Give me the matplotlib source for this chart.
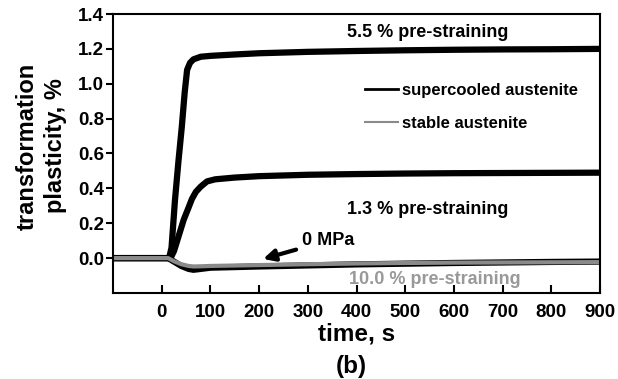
import matplotlib.pyplot as plt
from matplotlib.lines import Line2D

plt.rcParams['font.family'] = ['Liberation Sans', 'DejaVu Sans']
plt.rcParams['font.weight'] = 'bold'

# supercooled austenite, 5.5 % pre-straining
t_55 = [-100, 0, 15, 20, 27, 34, 41, 47, 52, 58, 65, 80, 100, 150, 200, 300, 400, 500, 600, 700, 800, 900]
v_55 = [0.0, 0.0, 0.0, 0.06, 0.33, 0.55, 0.75, 0.95, 1.08, 1.12, 1.14, 1.155, 1.16, 1.168, 1.175, 1.183, 1.188, 1.192, 1.195, 1.197, 1.198, 1.2]

# supercooled austenite, 1.3 % pre-straining
t_13 = [-100, 0, 18, 25, 35, 45, 55, 62, 70, 80, 93, 110, 150, 200, 300, 400, 500, 600, 700, 800, 900]
v_13 = [0.0, 0.0, 0.0, 0.04, 0.13, 0.22, 0.29, 0.34, 0.38, 0.41, 0.44, 0.452, 0.462, 0.47, 0.478, 0.482, 0.485, 0.487, 0.488, 0.489, 0.49]

# supercooled austenite, 0 MPa
t_0 = [-100, 0, 13, 25, 40, 55, 65, 80, 100, 200, 300, 400, 500, 600, 700, 800, 900]
v_0 = [0.0, 0.0, 0.0, -0.02, -0.045, -0.062, -0.067, -0.062, -0.055, -0.048, -0.042, -0.036, -0.032, -0.028, -0.025, -0.022, -0.02]

# stable austenite, 10.0 % pre-straining
t_10 = [-100, 0, 13, 25, 40, 55, 65, 80, 100, 200, 300, 400, 500, 600, 700, 800, 900]
v_10 = [0.0, 0.0, 0.0, -0.018, -0.035, -0.045, -0.048, -0.047, -0.045, -0.04, -0.035, -0.031, -0.028, -0.026, -0.025, -0.024, -0.023]

fig = plt.figure(figsize=(6.18, 3.79), dpi=100)
ax = fig.add_axes([0.183, 0.227, 0.788, 0.736])

ax.plot(t_55, v_55, color='black', lw=4.5, solid_capstyle='butt')
ax.plot(t_13, v_13, color='black', lw=4.5, solid_capstyle='butt')
ax.plot(t_0, v_0, color='black', lw=4.5, solid_capstyle='butt')
ax.plot(t_10, v_10, color='#8a8a8a', lw=3.0, solid_capstyle='butt')

ax.set_xlim(-100, 900)
ax.set_ylim(-0.2, 1.4)
ax.set_xticks(range(0, 901, 100))
ax.set_yticks([0.0, 0.2, 0.4, 0.6, 0.8, 1.0, 1.2, 1.4])
ax.set_yticklabels(['0.0', '0.2', '0.4', '0.6', '0.8', '1.0', '1.2', '1.4'])
ax.tick_params(axis='x', direction='in', length=6, width=1.5, labelsize=13.5, pad=8)
ax.tick_params(axis='y', direction='out', length=5, width=1.5, labelsize=13.5, pad=1.5)
for s in ax.spines.values():
    s.set_linewidth(1.5)

ax.set_xlabel('time, s', fontsize=17.5, fontweight='bold', labelpad=1)
fig.text(351 / 618, 1 - 367 / 379, '(b)', ha='center', va='center', fontsize=17.5, fontweight='bold')
fig.text(41 / 618, 1 - 146 / 379, 'transformation\nplasticity, %', rotation=90, ha='center',
         va='center', multialignment='center', fontsize=17, fontweight='bold', linespacing=1.3)

ax.text(547, 1.293, '5.5 % pre-straining', ha='center', va='center', fontsize=13, fontweight='bold')
ax.text(547, 0.28, '1.3 % pre-straining', ha='center', va='center', fontsize=13, fontweight='bold')
ax.text(560, -0.124, '10.0 % pre-straining', ha='center', va='center', fontsize=13,
        fontweight='bold', color='#999999')
ax.annotate('0 MPa', xy=(208, -0.005), xytext=(287, 0.1), fontsize=13, fontweight='bold',
            va='center', ha='left',
            arrowprops=dict(arrowstyle='-|>', color='black', lw=3, mutation_scale=17,
                            shrinkA=2, shrinkB=0))

handles = [Line2D([], [], color='black', lw=2),
           Line2D([], [], color='#8a8a8a', lw=1.5)]
ax.legend(handles, ['supercooled austenite', 'stable austenite'], loc='upper left',
          bbox_to_anchor=(0.517, 0.754), frameon=False, fontsize=12, handlelength=2.0,
          handletextpad=0.2, labelspacing=1.1, borderpad=0, borderaxespad=0)

fig.savefig('out.png', dpi=100)
